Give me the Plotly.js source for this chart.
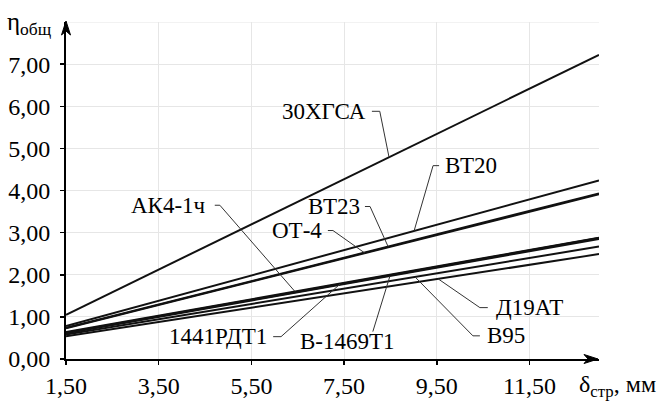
<!DOCTYPE html>
<html>
<head>
<meta charset="utf-8">
<script src="https://cdn.plot.ly/plotly-3.0.1.min.js"></script>
<style>html,body{margin:0;padding:0;background:#fff;}#chart{width:659px;height:401px;}</style>
</head>
<body>
<div id="chart"></div>
<script>
// δ_стр, мм (x values of the line end points)
const delta = [1.5, 13.0];
// η_общ series
const eta_30XGSA  = [1.05, 7.22];
const eta_VT20    = [0.78, 4.24];
const eta_VT23    = [0.74, 3.93];
const eta_OT4     = [0.73, 3.91];
const eta_AK41ch  = [0.64, 2.88];
const eta_1441    = [0.62, 2.87];
const eta_V1469   = [0.61, 2.85];
const eta_V95     = [0.58, 2.67];
const eta_D19AT   = [0.54, 2.49];

const seriesNames = ['30ХГСА','ВТ20','ВТ23','ОТ-4','АК4-1ч','1441РДТ1','В-1469Т1','В95','Д19АТ'];
const seriesVals  = [eta_30XGSA, eta_VT20, eta_VT23, eta_OT4, eta_AK41ch, eta_1441, eta_V1469, eta_V95, eta_D19AT];

const xTicks = [1.5, 3.5, 5.5, 7.5, 9.5, 11.5];
const yTicks = [0, 1, 2, 3, 4, 5, 6, 7];
const yMax = 8;
const fmt = v => v.toFixed(2).replace('.', ',');

const FONT = 'Liberation Serif';

const traces = seriesNames.map((n, i) => ({
  type: 'scatter', mode: 'lines', name: n,
  x: delta, y: seriesVals[i],
  line: {color: '#111', width: 2},
  hoverinfo: 'skip', showlegend: false
}));

function lineAt(vals, d) {
  const t = (d - delta[0]) / (delta[1] - delta[0]);
  return vals[0] + t * (vals[1] - vals[0]);
}

// label placement: tip (δ on the line), elbow and end in data coordinates, text anchor
const labels = [
  {i:0, tip:8.47, elbow:[8.27,5.88], end:[8.10,5.88], anchor:'right', shift:-4},
  {i:1, tip:9.01, elbow:[9.42,4.59], end:[9.55,4.59], anchor:'left', shift:4},
  {i:2, tip:8.45, elbow:[8.06,3.62], end:[7.95,3.62], anchor:'right', shift:-3},
  {i:3, tip:7.95, elbow:[7.26,3.05], end:[7.15,3.05], anchor:'right', shift:-4},
  {i:4, tip:6.44, elbow:[4.82,3.65], end:[4.71,3.65], anchor:'right', shift:-7},
  {i:5, tip:7.41, elbow:[6.14,0.53], end:[5.97,0.53], anchor:'right', shift:-4},
  {i:6, tip:8.49, elbow:null,        end:[8.12,0.65], anchor:'center', text:[7.58,0.41]},
  {i:7, tip:9.03, elbow:[10.28,0.55], end:[10.43,0.55], anchor:'left', shift:5},
  {i:8, tip:9.53, elbow:[10.43,1.22], end:[10.60,1.22], anchor:'left', shift:6}
];

const shapes = [];
const annotations = [];

// top gridline (at η = 8, no tick label there)
shapes.push({type:'line', xref:'paper', yref:'y', x0:0, x1:1, y0:yMax, y1:yMax,
  line:{color:'#e6e6e6', width:1}, layer:'below'});

labels.forEach(L => {
  const ty = lineAt(seriesVals[L.i], L.tip);
  let path = 'M' + L.tip + ',' + ty;
  if (L.elbow) path += ' L' + L.elbow[0] + ',' + L.elbow[1];
  path += ' L' + L.end[0] + ',' + L.end[1];
  shapes.push({type:'path', xref:'x', yref:'y', path: path, line:{color:'#333', width:1}});
  const f = {family:FONT, size:23, color:'#000'};
  if (L.text) {
    annotations.push({xref:'x', yref:'y', x:L.text[0], y:L.text[1], text:seriesNames[L.i],
      showarrow:false, xanchor:'center', yanchor:'middle', font:f});
  } else {
    annotations.push({xref:'x', yref:'y', x:L.end[0], y:L.end[1], text:seriesNames[L.i],
      showarrow:false, xanchor:L.anchor, yanchor:'middle', xshift:L.shift, font:f});
  }
});

// axis arrowheads
shapes.push({type:'path', xref:'paper', yref:'paper', xsizemode:'pixel', ysizemode:'pixel',
  xanchor:1, yanchor:0, path:'M-1,0 L-15,-4.5 L-11,0 L-15,4.5 Z',
  fillcolor:'#000', line:{color:'#000', width:1}});
shapes.push({type:'path', xref:'paper', yref:'paper', xsizemode:'pixel', ysizemode:'pixel',
  xanchor:0, yanchor:1, path:'M0,1 L-4.5,-13 L0,-9 L4.5,-13 Z',
  fillcolor:'#000', line:{color:'#000', width:1}});

// axis titles
annotations.push({xref:'paper', yref:'paper', x:0, y:1, xanchor:'right', yanchor:'middle', xshift:-12, yshift:-1,
  text:'η<sub>общ</sub>', showarrow:false, font:{family:FONT, size:25, color:'#000'}});
annotations.push({xref:'paper', yref:'paper', x:1, y:0, xanchor:'left', yanchor:'middle', xshift:-22, yshift:-27,
  text:'δ<sub>стр</sub>, мм', showarrow:false, font:{family:FONT, size:24, color:'#000'}});

const layout = {
  width: 659, height: 401,
  margin: {l:66, r:60, t:22, b:42, pad:0},
  paper_bgcolor:'#fff', plot_bgcolor:'#fff',
  showlegend:false,
  xaxis: {
    range:[1.5, 13.0], tickvals:xTicks, ticktext:xTicks.map(fmt),
    showgrid:true, gridcolor:'#e6e6e6', gridwidth:1, zeroline:false,
    showline:true, linecolor:'#000', linewidth:2,
    ticks:'outside', ticklen:4, tickwidth:1.5, tickcolor:'#000',
    tickfont:{family:FONT, size:24, color:'#000'}
  },
  yaxis: {
    range:[0, yMax], tickvals:yTicks, ticktext:yTicks.map(fmt),
    showgrid:true, gridcolor:'#e6e6e6', gridwidth:1, zeroline:false,
    showline:true, linecolor:'#000', linewidth:2,
    ticks:'outside', ticklen:4, tickwidth:1.5, tickcolor:'#000',
    ticklabelstandoff:5,
    tickfont:{family:FONT, size:24, color:'#000'}
  },
  shapes: shapes,
  annotations: annotations
};

Plotly.newPlot('chart', traces, layout, {staticPlot:true, displayModeBar:false});
</script>
</body>
</html>
